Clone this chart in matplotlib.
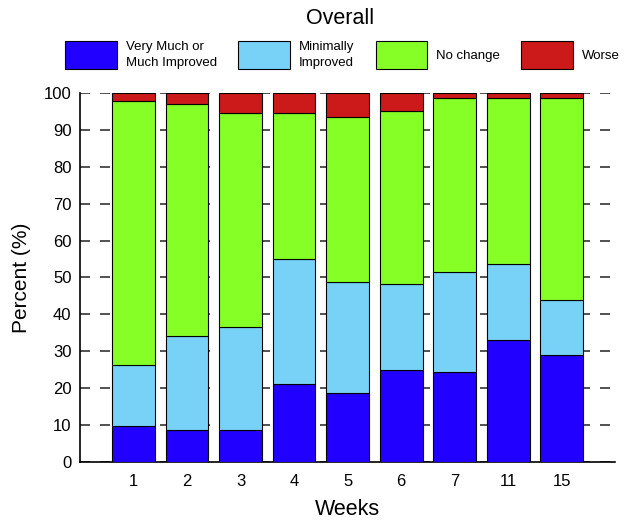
import numpy as np
import matplotlib.pyplot as plt

plt.rcParams['font.family'] = ['Liberation Sans', 'DejaVu Sans']

weeks = ['1', '2', '3', '4', '5', '6', '7', '11', '15']
# cumulative tops
much_improved = np.array([9.7, 8.7, 8.7, 21.0, 18.7, 25.0, 24.3, 33.0, 29.0])
minimal_top = np.array([26.3, 34.2, 36.6, 55.0, 48.9, 48.2, 51.5, 53.7, 44.0])
no_change_top = np.array([97.9, 97.0, 94.6, 94.6, 93.5, 95.2, 98.6, 98.6, 98.6])

minimally = minimal_top - much_improved
no_change = no_change_top - minimal_top
worse = 100 - no_change_top

labels = ['Very Much or\nMuch Improved', 'Minimally\nImproved', 'No change', 'Worse']
colors = ['#2200FF', '#78D2F8', '#86FF26', '#CC1A1A']

fig = plt.figure(figsize=(6.24, 5.25), dpi=100)
ax = fig.add_axes([0.128, 0.12, 0.858, 0.703])

x = np.arange(len(weeks))
bottom = np.zeros(len(weeks))
for vals, lab, col in zip([much_improved, minimally, no_change, worse], labels, colors):
    ax.bar(x, vals, bottom=bottom, width=0.8, color=col, edgecolor='black',
           linewidth=0.8, label=lab, zorder=3)
    bottom = bottom + vals

ax.set_xlim(-1, 9)
ax.set_ylim(0, 100)
ax.set_yticks(np.arange(0, 101, 10))
ax.set_xticks(x)
ax.set_xticklabels(weeks)
ax.tick_params(axis='y', labelsize=12, length=0, pad=6)
ax.tick_params(axis='x', labelsize=12, length=0, pad=9)
ax.yaxis.grid(True, linestyle=(0, (6, 6)), color='#333333', linewidth=1.2, zorder=0)
for s in ['top', 'right']:
    ax.spines[s].set_visible(False)
ax.spines['left'].set_linewidth(1.2)
ax.spines['bottom'].set_linewidth(1.2)

ax.set_ylabel('Percent (%)', fontsize=15, labelpad=9)
ax.set_xlabel('Weeks', fontsize=15.5, labelpad=7)

fig.text(0.545, 0.965, 'Overall', fontsize=15.5, ha='center', va='center')
handles, labs = ax.get_legend_handles_labels()
leg = fig.legend(handles, labs, loc='center', bbox_to_anchor=(0.549, 0.895), ncol=4,
                 frameon=False, fontsize=9.5, handlelength=3.9, handleheight=2.9,
                 handletextpad=0.7, columnspacing=1.6, borderaxespad=0, borderpad=0)
for t in leg.get_texts():
    t.set_linespacing(1.45)

fig.savefig('out.png', dpi=100)
